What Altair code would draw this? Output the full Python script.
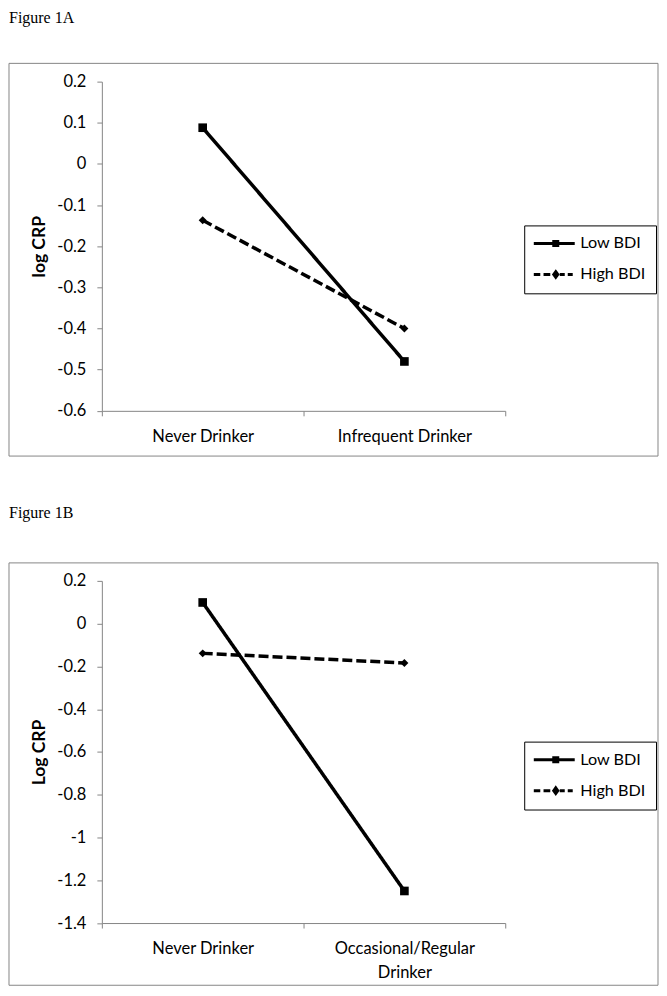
import altair as alt
import pandas as pd

# ---------------- data ----------------
series = ["Low BDI", "High BDI"]

cats_a = ["Never Drinker", "Infrequent Drinker"]
low_a = [0.088, -0.48]
high_a = [-0.137, -0.40]
ticks_a = [0.2, 0.1, 0, -0.1, -0.2, -0.3, -0.4, -0.5, -0.6]

cats_b = ["Never Drinker", "Occasional/Regular Drinker"]
low_b = [0.099, -1.25]
high_b = [-0.139, -0.184]
ticks_b = [0.2, 0, -0.2, -0.4, -0.6, -0.8, -1, -1.2, -1.4]

# ---------------- style ----------------
FONT = "Lato"
GRAY = "#868686"
LOW_PATH = "M-1.7,0H6.5M2.3,-0.4H3.1V0.4H2.3Z"
HIGH_PATH = ("M-1.7,0H-0.4M0.25,0H1.6M3.5,0H4.5M5.1,0H6.1"
             "M2.7,-0.55L3.1,0L2.7,0.55L2.3,0Z")
ONE = pd.DataFrame({"k": [0]})


def panel(cats, low, high, ticks, ytitle, fig, height, legend_y,
          frame_top, frame_bottom, title_y):
    df = pd.DataFrame({
        "cat": cats + cats,
        "series": [series[0]] * len(cats) + [series[1]] * len(cats),
        "val": low + high,
    })
    label_expr = ("datum.value == 'Occasional/Regular Drinker' ? "
                  "['Occasional/Regular', 'Drinker'] : datum.label")
    x = alt.X(
        "cat:N", sort=cats, bandPosition=0.5,
        scale=alt.Scale(type="band", paddingInner=0, paddingOuter=0),
        axis=alt.Axis(title=None, labelAngle=0, tickBand="extent",
                      labelExpr=label_expr, labelLineHeight=24,
                      labelPadding=13, tickSize=5),
    )
    y = alt.Y(
        "val:Q",
        scale=alt.Scale(domain=[ticks[-1], ticks[0]], nice=False, zero=False),
        axis=alt.Axis(values=ticks, title=ytitle, tickSize=5, labelPadding=11,
                      labelExpr="replace(format(datum.value, '.1~f'), '\u2212', '-')",
                      titlePadding=8, titleFont=FONT, titleFontSize=17.5,
                      titleFontWeight="bold", titleColor="black"),
    )
    lines = alt.Chart(df).mark_line(color="black", strokeWidth=3.5).encode(
        x=x, y=y,
        strokeDash=alt.StrokeDash("series:N",
                                  scale=alt.Scale(domain=series, range=[[1, 0], [10, 4]]),
                                  legend=None),
    )
    points = alt.Chart(df).mark_point(filled=True, color="black", opacity=1).encode(
        x=x, y=y,
        shape=alt.Shape("series:N",
                        scale=alt.Scale(domain=series, range=["square", "diamond"]),
                        legend=None),
        size=alt.Size("series:N", scale=alt.Scale(domain=series, range=[75, 64]),
                      legend=None),
    )
    legend = alt.Legend(
        title=None, orient="none", legendX=423, legendY=legend_y,
        direction="vertical", strokeColor="black", fillColor="white",
        padding=10, rowPadding=13, symbolSize=100, labelOffset=30,
        labelFont=FONT, labelFontSize=16.2, labelColor="black",
        symbolStrokeColor="black", symbolStrokeWidth=3, symbolOpacity=1,
    )
    # legend-only layer: no rows drawn, its shape scale carries the key symbols
    key = alt.Chart(df).transform_filter("false").mark_point(
        filled=False, color="black", strokeWidth=3, opacity=1
    ).encode(
        x=x, y=y,
        shape=alt.Shape("series:N",
                        scale=alt.Scale(domain=series, range=[LOW_PATH, HIGH_PATH]),
                        legend=legend),
    )
    frame = alt.Chart(ONE).mark_rect(fill="transparent", stroke=GRAY,
                                     strokeWidth=1).encode(
        x=alt.value(-93), x2=alt.value(557),
        y=alt.value(frame_top), y2=alt.value(frame_bottom),
    )
    title = alt.Chart(ONE).mark_text(
        text=fig, font="Liberation Serif", fontSize=16, align="left",
        baseline="top", color="black",
    ).encode(x=alt.value(-93), y=alt.value(title_y))
    return alt.layer(frame, title, lines, points, key).resolve_scale(
        shape="independent"
    ).properties(width=404, height=height)


chart_a = panel(cats_a, low_a, high_a, ticks_a, "log CRP", "Figure 1A",
                329.7, 144, -18.3, 375, -72)
chart_b = panel(cats_b, low_b, high_b, ticks_b, "Log CRP", "Figure 1B",
                342.7, 161, -18, 405, -76)

chart = alt.vconcat(chart_a, chart_b, spacing=47).properties(
    padding=0, background="white",
).configure_view(stroke="transparent").configure_axis(
    domainColor=GRAY, tickColor=GRAY, labelColor="black", labelFont=FONT,
    labelFontSize=16.5, grid=False, domainWidth=1, tickWidth=1,
)

chart.save("out.html", embed_options={"renderer": "svg", "actions": False})
